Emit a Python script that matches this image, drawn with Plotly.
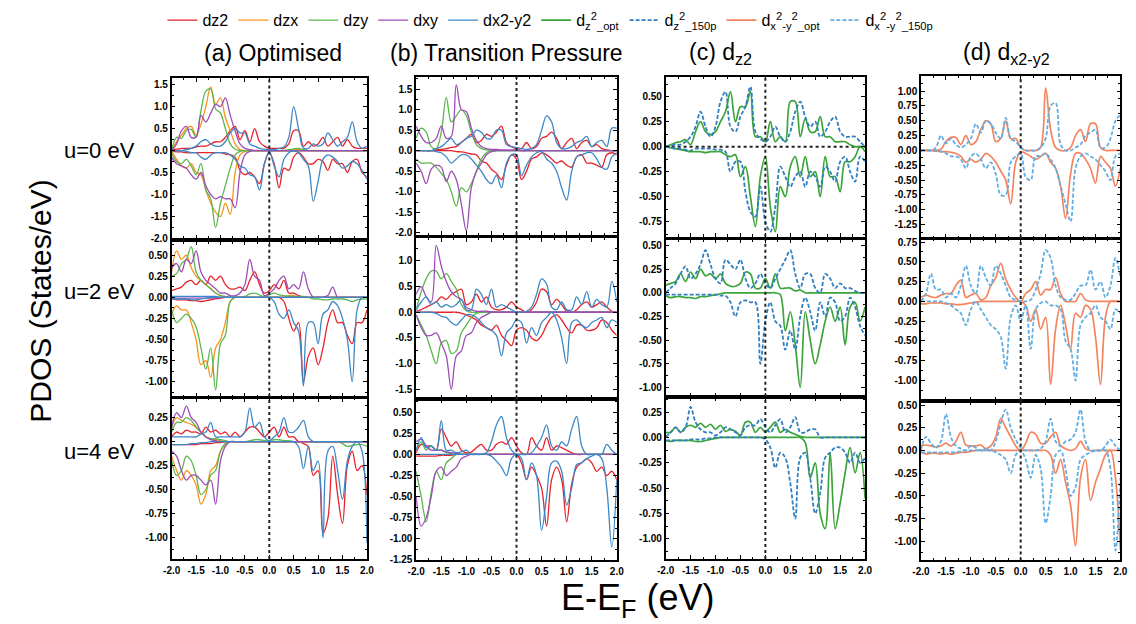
import sys
import plotly.graph_objects as go

# ---------------- data ----------------
E = [-2.0, -1.9, -1.8, -1.7, -1.6, -1.5, -1.4, -1.3, -1.2, -1.1,
     -1.0, -0.9, -0.8, -0.7, -0.6, -0.5, -0.4, -0.3, -0.2, -0.1,
     0.0, 0.1, 0.2, 0.3, 0.4, 0.5, 0.6, 0.7, 0.8, 0.9,
     1.0, 1.1, 1.2, 1.3, 1.4, 1.5, 1.6, 1.7, 1.8, 1.9,
     2.0]

# (a) Optimised, u=0 eV
a0_dz2_up = [0.02, 0.03, 0.05, 0.05, 0.05, 0.08, 0.10, 0.10, 0.15, 0.20,
             0.20, 0.30, 0.45, 0.55, 0.25, 0.45, 0.20, 0.50, 0.20, 0.10,
             0.05, 0.05, 0.05, 0.05, 0.15, 0.45, 0.45, 0.10, 0.20, 0.10,
             0.15, 0.30, 0.10, 0.20, 0.30, 0.10, 0.25, 0.10, 0.05, 0.05,
             0.05]
a0_dz2_dn = [-0.02, -0.03, -0.03, -0.05, -0.05, -0.05, -0.05, -0.05, -0.05, -0.05,
             -0.05, -0.08, -0.10, -0.15, -0.45, -0.55, -0.50, -0.60, -0.75, -0.30,
             -0.05, -0.30, -0.85, -0.40, -0.45, -0.15, -0.05, -0.15, -0.30, -0.30,
             -0.20, -0.25, -0.45, -0.20, -0.30, -0.30, -0.50, -0.25, -0.20, -0.50,
             -0.60]
a0_dzx_up = [0.00, 0.20, 0.35, 0.50, 0.55, 0.35, 0.60, 1.00, 1.45, 1.05,
             1.20, 0.75, 0.45, 0.15, 0.02, 0.00, 0.00, 0.00, 0.00, 0.00,
             0.00, 0.00, 0.00, 0.00, 0.00, 0.02, 0.02, 0.00, 0.00, 0.00,
             0.00, 0.00, 0.00, 0.00, 0.00, 0.00, 0.00, 0.00, 0.00, 0.00,
             0.00]
a0_dzx_dn = [-0.02, -0.20, -0.35, -0.40, -0.30, -0.50, -0.55, -0.90, -1.20, -1.40,
             -1.50, -1.20, -1.45, -0.50, -0.10, -0.02, 0.00, 0.00, 0.00, 0.00,
             0.00, 0.00, 0.00, 0.00, 0.00, 0.00, 0.00, 0.00, 0.00, 0.00,
             0.00, 0.00, 0.00, 0.00, 0.00, 0.00, 0.00, 0.00, 0.00, 0.00,
             0.00]
a0_dzy_up = [0.00, 0.30, 0.28, 0.45, 0.48, 0.30, 0.90, 1.35, 1.40, 0.95,
             0.85, 0.50, 0.15, 0.03, 0.00, 0.00, 0.00, 0.00, 0.00, 0.00,
             0.00, 0.00, 0.00, 0.00, 0.02, 0.04, 0.05, 0.02, 0.00, 0.00,
             0.00, 0.00, 0.00, 0.00, 0.00, 0.00, 0.00, 0.00, 0.00, 0.00,
             0.00]
a0_dzy_dn = [-0.05, -0.25, -0.30, -0.20, -0.35, -0.55, -0.30, -0.90, -1.10, -1.75,
             -1.20, -0.80, -0.40, -0.10, -0.02, 0.00, 0.00, 0.00, 0.00, 0.00,
             0.00, 0.00, 0.00, 0.00, -0.01, -0.02, -0.01, 0.00, 0.00, 0.00,
             0.00, 0.00, 0.00, 0.00, 0.00, 0.00, 0.00, 0.00, 0.00, 0.00,
             0.00]
a0_dxy_up = [0.00, 0.15, 0.45, 0.55, 0.30, 0.30, 0.80, 0.65, 0.85, 1.05,
             1.00, 1.20, 0.80, 0.45, 0.15, 0.05, 0.02, 0.00, 0.00, 0.00,
             0.00, 0.00, 0.00, 0.00, 0.00, 0.00, 0.00, 0.00, 0.00, 0.00,
             0.00, 0.00, 0.00, 0.00, 0.00, 0.00, 0.00, 0.00, 0.00, 0.00,
             0.00]
a0_dxy_dn = [-0.15, -0.30, -0.35, -0.40, -0.55, -0.65, -0.50, -0.80, -1.00, -1.10,
             -1.05, -1.10, -1.10, -1.30, -0.50, -0.10, -0.02, 0.00, 0.00, 0.00,
             0.00, 0.00, 0.00, 0.00, 0.00, 0.00, 0.00, 0.00, 0.00, 0.00,
             0.00, 0.00, 0.00, 0.00, 0.00, 0.00, 0.00, 0.00, 0.00, 0.00,
             0.00]
a0_dx2_up = [0.00, 0.00, 0.00, 0.02, 0.05, 0.10, 0.20, 0.25, 0.15, 0.10,
             0.10, 0.20, 0.40, 0.50, 0.40, 0.40, 0.15, 0.10, 0.05, 0.03,
             0.02, 0.02, 0.05, 0.08, 0.30, 1.00, 0.50, 0.05, 0.05, 0.15,
             0.10, 0.15, 0.40, 0.25, 0.10, 0.20, 0.30, 0.65, 0.20, 0.05,
             0.10]
a0_dx2_dn = [0.00, 0.00, 0.00, -0.02, -0.05, -0.05, -0.15, -0.20, -0.10, -0.05,
             -0.05, -0.05, -0.10, -0.20, -0.35, -0.40, -0.55, -0.60, -0.90, -0.30,
             -0.02, -0.35, -0.60, -0.20, -0.05, 0.00, -0.05, -0.20, -0.35, -1.15,
             -0.70, -0.20, -0.10, -0.15, -0.25, -0.40, -0.35, -0.25, -0.30, -0.45,
             -0.65]

# (a) Optimised, u=2 eV
a2_dz2_up = [0.08, 0.10, 0.12, 0.18, 0.20, 0.15, 0.20, 0.15, 0.25, 0.20,
             0.25, 0.15, 0.10, 0.10, 0.12, 0.08, 0.20, 0.30, 0.15, 0.05,
             0.08, 0.15, 0.10, 0.20, 0.05, 0.05, 0.02, 0.00, 0.00, 0.00,
             0.00, 0.00, 0.00, 0.00, 0.00, 0.00, 0.00, 0.00, 0.00, 0.00,
             0.00]
a2_dz2_dn = [-0.02, -0.03, -0.03, -0.03, -0.04, -0.04, -0.05, -0.04, -0.03, -0.02,
             -0.01, 0.00, 0.00, 0.00, 0.00, 0.00, 0.00, 0.00, 0.00, 0.00,
             0.00, 0.00, 0.00, -0.05, -0.25, -0.40, -0.30, -1.00, -0.70, -0.60,
             -0.80, -0.60, -0.30, -0.15, -0.30, -0.30, -0.45, -0.55, -0.30, -0.30,
             -0.15]
a2_dzx_up = [0.30, 0.55, 0.45, 0.50, 0.35, 0.25, 0.20, 0.15, 0.10, 0.05,
             0.02, 0.00, 0.00, 0.00, 0.00, 0.00, 0.00, 0.00, 0.00, 0.00,
             0.00, 0.00, 0.00, 0.00, 0.02, 0.02, 0.00, 0.00, 0.00, 0.00,
             0.00, 0.00, 0.00, 0.00, 0.00, 0.00, 0.00, 0.00, 0.00, 0.00,
             0.00]
a2_dzx_dn = [-0.20, -0.10, -0.15, -0.15, -0.30, -0.50, -0.80, -0.75, -0.95, -0.60,
             -0.50, -0.30, -0.05, 0.00, 0.00, 0.00, 0.00, 0.00, 0.00, 0.00,
             0.00, 0.00, 0.00, 0.00, 0.00, 0.00, 0.00, 0.00, 0.00, 0.00,
             0.00, 0.00, 0.00, 0.00, 0.00, 0.00, 0.00, 0.00, 0.00, 0.00,
             0.00]
a2_dzy_up = [0.25, 0.28, 0.40, 0.45, 0.60, 0.30, 0.20, 0.15, 0.10, 0.05,
             0.02, 0.01, 0.00, 0.00, 0.00, 0.01, 0.04, 0.05, 0.03, 0.00,
             0.03, 0.05, 0.03, 0.02, 0.01, 0.01, 0.01, 0.01, 0.00, 0.00,
             0.00, 0.00, 0.00, 0.00, 0.00, 0.00, 0.00, 0.00, 0.00, 0.00,
             0.00]
a2_dzy_dn = [-0.15, -0.30, -0.25, -0.20, -0.25, -0.35, -0.60, -0.85, -0.60, -1.10,
             -0.55, -0.45, -0.05, 0.00, 0.00, 0.00, 0.00, 0.00, 0.00, 0.00,
             0.00, 0.00, 0.00, 0.00, 0.00, 0.00, 0.00, 0.00, 0.00, -0.02,
             -0.02, -0.03, -0.03, -0.02, -0.02, -0.02, -0.03, -0.05, -0.03, -0.02,
             -0.02]
a2_dxy_up = [0.35, 0.40, 0.30, 0.45, 0.40, 0.55, 0.30, 0.20, 0.15, 0.10,
             0.05, 0.05, 0.02, 0.02, 0.05, 0.15, 0.45, 0.25, 0.20, 0.02,
             0.05, 0.10, 0.20, 0.25, 0.10, 0.15, 0.10, 0.30, 0.10, 0.00,
             0.00, 0.00, 0.02, 0.12, 0.00, 0.00, 0.00, 0.00, 0.00, 0.00,
             0.00]
a2_dxy_dn = [-0.01, -0.01, -0.01, -0.01, -0.01, -0.01, -0.01, -0.01, -0.01, -0.01,
             0.00, 0.00, 0.00, 0.00, 0.00, 0.00, 0.00, 0.00, 0.00, 0.00,
             0.00, 0.00, 0.00, 0.00, 0.00, 0.00, 0.00, 0.00, 0.00, 0.00,
             0.00, 0.00, 0.00, 0.00, 0.00, 0.00, 0.00, 0.00, 0.00, 0.00,
             0.00]
a2_dx2_up = [0.01, 0.01, 0.01, 0.01, 0.01, 0.01, 0.01, 0.01, 0.01, 0.01,
             0.00, 0.00, 0.00, 0.00, 0.00, 0.00, 0.00, 0.00, 0.00, 0.00,
             0.00, 0.00, 0.00, 0.00, 0.00, 0.00, 0.00, 0.00, 0.00, 0.00,
             0.00, 0.00, 0.00, 0.00, 0.00, 0.00, 0.00, 0.00, 0.00, 0.00,
             0.00]
a2_dx2_dn = [-0.02, -0.02, -0.02, -0.02, -0.03, -0.03, -0.02, -0.01, 0.00, 0.00,
             0.00, 0.00, 0.00, 0.00, 0.00, 0.00, 0.00, 0.00, 0.00, 0.00,
             0.00, -0.05, -0.20, -0.25, -0.15, -0.30, -0.40, -1.05, -0.30, -0.30,
             -0.55, -0.20, -0.15, -0.05, -0.10, -0.25, -0.50, -1.00, -0.15, 0.00,
             0.00]

# (a) Optimised, u=4 eV
a4_dz2_up = [0.05, 0.10, 0.08, 0.12, 0.10, 0.10, 0.08, 0.15, 0.10, 0.12,
             0.08, 0.10, 0.05, 0.10, 0.05, 0.10, 0.15, 0.15, 0.10, 0.05,
             0.10, 0.15, 0.05, 0.15, 0.05, 0.05, 0.00, 0.00, 0.00, 0.00,
             0.00, 0.00, 0.00, 0.00, 0.00, 0.00, 0.00, 0.00, 0.00, 0.00,
             0.00]
a4_dz2_dn = [-0.03, -0.03, -0.03, -0.03, -0.03, -0.03, -0.02, -0.02, -0.02, -0.01,
             -0.01, 0.00, 0.00, 0.00, 0.00, 0.00, 0.00, 0.00, 0.00, 0.00,
             0.00, 0.00, 0.00, 0.00, 0.00, 0.00, 0.00, -0.02, -0.05, -0.35,
             -0.30, -0.95, -0.80, -0.15, -0.55, -0.85, -0.25, -0.10, -0.30, -0.25,
             -0.55]
a4_dzx_up = [0.15, 0.25, 0.22, 0.20, 0.18, 0.15, 0.10, 0.05, 0.03, 0.02,
             0.01, 0.00, 0.00, 0.00, 0.00, 0.00, 0.00, 0.00, 0.00, 0.00,
             0.00, 0.00, 0.00, 0.00, 0.00, 0.00, 0.00, 0.00, 0.00, 0.00,
             0.00, 0.00, 0.00, 0.00, 0.00, 0.00, 0.00, 0.00, 0.00, 0.00,
             0.00]
a4_dzx_dn = [-0.15, -0.30, -0.40, -0.30, -0.35, -0.45, -0.65, -0.55, -0.30, -0.25,
             -0.10, -0.03, 0.00, 0.00, 0.00, 0.00, 0.00, 0.00, 0.00, 0.00,
             0.00, 0.00, 0.00, 0.00, 0.00, 0.00, 0.00, 0.00, 0.00, 0.00,
             0.00, 0.00, 0.00, 0.00, 0.00, 0.00, 0.00, 0.00, 0.00, 0.00,
             0.00]
a4_dzy_up = [0.10, 0.20, 0.20, 0.25, 0.22, 0.15, 0.10, 0.05, 0.03, 0.03,
             0.02, 0.01, 0.00, 0.00, 0.00, 0.00, 0.01, 0.02, 0.02, 0.01,
             0.01, 0.02, 0.02, 0.01, 0.01, 0.00, 0.00, 0.00, 0.00, 0.00,
             0.00, 0.00, 0.00, 0.00, 0.00, 0.00, 0.00, 0.00, 0.00, 0.00,
             0.00]
a4_dzy_dn = [-0.20, -0.35, -0.30, -0.15, -0.20, -0.35, -0.55, -0.50, -0.35, -0.30,
             -0.10, -0.02, 0.00, 0.00, 0.00, 0.00, 0.00, 0.00, 0.00, 0.00,
             0.00, 0.00, 0.00, 0.00, 0.00, 0.00, 0.00, 0.00, 0.00, 0.00,
             0.00, 0.00, 0.00, 0.00, 0.00, -0.02, -0.05, -0.04, -0.03, -0.03,
             -0.05]
a4_dxy_up = [0.15, 0.30, 0.25, 0.37, 0.25, 0.20, 0.10, 0.05, 0.02, 0.01,
             0.00, 0.00, 0.00, 0.00, 0.00, 0.00, 0.00, 0.00, 0.00, 0.00,
             0.00, 0.00, 0.00, 0.00, 0.00, 0.00, 0.00, 0.00, 0.00, 0.00,
             0.00, 0.00, 0.00, 0.00, 0.00, 0.00, 0.00, 0.00, 0.00, 0.00,
             0.00]
a4_dxy_dn = [-0.10, -0.15, -0.30, -0.40, -0.35, -0.35, -0.40, -0.45, -0.40, -0.65,
             -0.20, -0.05, 0.00, 0.00, 0.00, 0.00, 0.00, 0.00, 0.00, 0.00,
             0.00, 0.00, 0.00, 0.00, 0.00, 0.00, 0.00, 0.00, 0.00, 0.00,
             0.00, 0.00, 0.00, 0.00, 0.00, 0.00, 0.00, 0.00, 0.00, 0.00,
             0.00]
a4_dx2_up = [0.05, 0.05, 0.05, 0.05, 0.05, 0.05, 0.08, 0.10, 0.20, 0.05,
             0.05, 0.05, 0.05, 0.05, 0.05, 0.10, 0.35, 0.15, 0.20, 0.05,
             0.01, 0.05, 0.10, 0.25, 0.10, 0.10, 0.15, 0.22, 0.05, 0.00,
             0.00, 0.00, 0.00, 0.00, 0.00, 0.00, 0.00, 0.00, 0.00, 0.00,
             0.00]
a4_dx2_dn = [-0.03, -0.03, -0.03, -0.03, -0.02, -0.02, -0.01, -0.01, 0.00, 0.00,
             0.00, 0.00, 0.00, 0.00, 0.00, 0.00, 0.00, 0.00, 0.00, 0.00,
             0.00, 0.00, 0.00, 0.00, 0.00, 0.00, -0.05, -0.28, -0.05, -0.30,
             -0.20, -1.00, -0.10, -0.05, -0.30, -0.60, -0.20, -0.05, 0.00, -0.10,
             -1.05]

# (b) Transition pressure, u=0 eV
b0_dz2_up = [0.00, 0.00, 0.00, 0.00, 0.02, 0.03, 0.05, 0.08, 0.10, 0.20,
             0.30, 0.40, 0.20, 0.25, 0.40, 0.35, 0.45, 0.60, 0.20, 0.10,
             0.05, 0.05, 0.20, 0.05, 0.10, 0.30, 0.35, 0.45, 0.30, 0.05,
             0.20, 0.30, 0.05, 0.20, 0.25, 0.10, 0.15, 0.05, 0.02, 0.00,
             0.00]
b0_dz2_dn = [0.00, 0.00, 0.00, 0.00, 0.00, 0.00, 0.00, 0.00, -0.02, -0.03,
             -0.05, -0.08, -0.10, -0.25, -0.30, -0.45, -0.55, -0.70, -0.35, -0.10,
             -0.20, -0.70, -0.50, -0.20, -0.15, -0.05, -0.10, -0.20, -0.30, -0.25,
             -0.35, -0.40, -0.15, -0.10, -0.30, -0.30, -0.35, -0.40, -0.10, -0.05,
             -0.10]
b0_dzy_up = [0.30, 0.55, 0.45, 0.10, 0.05, 0.45, 1.30, 0.70, 0.85, 1.00,
             0.85, 0.45, 0.15, 0.05, 0.02, 0.00, 0.00, 0.00, 0.00, 0.00,
             0.00, 0.00, 0.00, 0.00, 0.00, 0.00, 0.00, 0.00, 0.00, 0.00,
             0.00, 0.00, 0.00, 0.00, 0.00, 0.00, 0.00, 0.00, 0.00, 0.00,
             0.00]
b0_dzy_dn = [-0.20, -0.30, -0.30, -0.30, -0.40, -0.55, -0.70, -1.00, -1.35, -0.90,
             -1.00, -0.80, -0.50, -0.20, -0.05, 0.00, 0.00, 0.00, 0.00, 0.00,
             0.00, 0.00, 0.00, 0.00, 0.00, 0.00, 0.00, 0.00, 0.00, 0.00,
             0.00, 0.00, 0.00, 0.00, 0.00, 0.00, 0.00, 0.00, 0.00, 0.00,
             0.00]
b0_dxy_up = [0.60, 0.35, 0.20, 0.20, 0.30, 0.60, 0.30, 0.35, 1.60, 1.00,
             0.95, 0.55, 0.25, 0.10, 0.05, 0.03, 0.03, 0.02, 0.02, 0.02,
             0.02, 0.00, 0.00, 0.00, 0.00, 0.00, 0.00, 0.00, 0.00, 0.00,
             0.00, 0.00, 0.00, 0.00, 0.00, 0.00, 0.00, 0.00, 0.00, 0.00,
             0.00]
b0_dxy_dn = [-0.30, -0.50, -0.80, -0.45, -0.35, -0.40, -0.75, -0.50, -0.70, -1.30,
             -1.95, -0.90, -0.50, -0.30, -0.10, -0.02, 0.00, 0.00, 0.00, 0.00,
             0.00, 0.00, 0.00, 0.00, 0.00, 0.00, 0.00, 0.00, 0.00, 0.00,
             0.00, 0.00, 0.00, 0.00, 0.00, 0.00, 0.00, 0.00, 0.00, 0.00,
             0.00]
b0_dx2_up = [0.00, 0.00, 0.00, 0.00, 0.05, 0.10, 0.20, 0.30, 0.15, 0.20,
             0.30, 0.35, 0.50, 0.45, 0.30, 0.30, 0.50, 0.50, 0.15, 0.10,
             0.08, 0.05, 0.03, 0.05, 0.15, 0.50, 0.85, 0.70, 0.20, 0.05,
             0.05, 0.10, 0.20, 0.25, 0.35, 0.10, 0.20, 0.25, 0.10, 0.55,
             0.55]
b0_dx2_dn = [0.00, 0.00, 0.00, 0.00, -0.02, -0.05, -0.15, -0.30, -0.20, -0.10,
             -0.10, -0.20, -0.35, -0.50, -0.70, -0.80, -0.60, -0.90, -0.30, -0.10,
             -0.10, -0.60, -0.35, -0.15, -0.05, -0.02, -0.20, -0.30, -0.50, -0.90,
             -1.20, -0.50, -0.15, -0.10, -0.05, -0.05, -0.20, -0.40, -0.45, -0.15,
             -0.05]

# (b) Transition pressure, u=2 eV
b2_dz2_up = [0.02, 0.05, 0.10, 0.15, 0.20, 0.30, 0.25, 0.35, 0.40, 0.45,
             0.15, 0.20, 0.35, 0.20, 0.30, 0.10, 0.05, 0.05, 0.10, 0.20,
             0.10, 0.05, 0.00, 0.05, 0.20, 0.45, 0.40, 0.15, 0.25, 0.15,
             0.02, 0.00, 0.05, 0.15, 0.20, 0.10, 0.15, 0.20, 0.10, 0.02,
             0.00]
b2_dz2_dn = [0.00, 0.00, 0.00, 0.00, 0.00, 0.00, 0.00, 0.00, 0.00, -0.02,
             -0.05, -0.10, -0.15, -0.25, -0.30, -0.35, -0.25, -0.45, -0.55, -0.65,
             -0.35, -0.30, -0.35, -0.50, -0.55, -0.45, -0.25, -0.10, -0.05, -0.15,
             -0.30, -0.40, -0.25, -0.25, -0.35, -0.35, -0.30, -0.15, -0.20, -0.35,
             -0.45]
b2_dzy_up = [0.05, 0.40, 0.65, 0.80, 0.80, 0.65, 0.75, 0.60, 0.45, 0.15,
             0.03, 0.00, 0.00, 0.00, 0.00, 0.00, 0.00, 0.00, 0.00, 0.00,
             0.00, 0.00, 0.00, 0.00, 0.00, 0.00, 0.00, 0.00, 0.00, 0.00,
             0.00, 0.00, 0.00, 0.00, 0.00, 0.00, 0.00, 0.00, 0.00, 0.00,
             0.00]
b2_dzy_dn = [-0.05, -0.25, -0.45, -0.75, -1.00, -0.60, -0.55, -0.80, -0.75, -0.40,
             -0.25, -0.10, -0.02, 0.00, 0.00, 0.00, 0.00, 0.00, 0.00, 0.00,
             0.00, 0.00, 0.00, 0.00, 0.00, 0.00, 0.00, 0.00, 0.00, 0.00,
             0.00, 0.00, 0.00, 0.00, 0.00, 0.00, 0.00, 0.00, 0.00, 0.00,
             0.00]
b2_dxy_up = [0.35, 0.50, 0.30, 0.20, 1.30, 0.90, 0.60, 0.40, 0.30, 0.25,
             0.10, 0.05, 0.02, 0.02, 0.02, 0.01, 0.00, 0.00, 0.00, 0.00,
             0.00, 0.00, 0.00, 0.00, 0.00, 0.00, 0.00, 0.00, 0.00, 0.00,
             0.00, 0.00, 0.00, 0.00, 0.00, 0.00, 0.00, 0.00, 0.00, 0.00,
             0.00]
b2_dxy_dn = [-0.05, -0.30, -0.45, -0.45, -0.40, -0.60, -0.85, -1.50, -0.85, -0.75,
             -0.45, -0.40, -0.20, -0.10, -0.05, 0.00, 0.00, 0.00, 0.00, 0.00,
             0.00, 0.00, 0.00, 0.00, 0.00, 0.00, 0.00, 0.00, 0.00, 0.00,
             0.00, 0.00, 0.00, 0.00, 0.00, 0.00, 0.00, 0.00, 0.00, 0.00,
             0.00]
b2_dx2_up = [0.05, 0.20, 0.30, 0.15, 0.20, 0.10, 0.15, 0.10, 0.15, 0.25,
             0.05, 0.05, 0.45, 0.35, 0.15, 0.45, 0.10, 0.15, 0.10, 0.05,
             0.00, 0.00, 0.02, 0.10, 0.35, 0.65, 0.55, 0.10, 0.05, 0.20,
             0.05, 0.05, 0.30, 0.15, 0.40, 0.10, 0.25, 0.15, 0.10, 0.60,
             0.20]
b2_dx2_dn = [0.00, 0.00, 0.00, 0.00, -0.02, -0.08, -0.10, -0.20, -0.25, -0.15,
             -0.05, -0.05, -0.10, -0.20, -0.30, -0.35, -0.45, -0.85, -0.40, -0.30,
             -0.15, -0.20, -0.60, -0.30, -0.45, -0.20, -0.10, 0.00, -0.15, -0.50,
             -1.00, -0.20, -0.15, -0.25, -0.30, -0.20, -0.15, -0.10, -0.30, -0.15,
             -0.20]

# (b) Transition pressure, u=4 eV
b4_dz2_up = [0.02, 0.12, 0.10, 0.10, 0.05, 0.30, 0.20, 0.10, 0.15, 0.05,
             0.02, 0.03, 0.08, 0.12, 0.05, 0.05, 0.12, 0.15, 0.12, 0.20,
             0.10, 0.02, 0.00, 0.20, 0.10, 0.05, 0.20, 0.05, 0.10, 0.08,
             0.05, 0.02, 0.00, 0.00, 0.00, 0.00, 0.00, 0.00, 0.00, 0.00,
             0.00]
b4_dz2_dn = [-0.02, -0.02, -0.02, -0.02, -0.02, -0.01, -0.01, -0.01, 0.00, 0.00,
             0.00, 0.00, 0.00, 0.00, 0.00, 0.00, 0.00, 0.00, 0.00, 0.00,
             0.00, -0.10, -0.30, -0.15, -0.25, -0.40, -0.85, -0.30, -0.15, -0.30,
             -0.80, -0.35, -0.15, -0.10, -0.05, -0.10, -0.20, -0.15, -0.25, -0.20,
             -0.30]
b4_dzy_up = [0.05, 0.15, 0.05, 0.10, 0.05, 0.05, 0.02, 0.01, 0.00, 0.00,
             0.00, 0.00, 0.00, 0.00, 0.00, 0.00, 0.00, 0.00, 0.00, 0.00,
             0.00, 0.00, 0.00, 0.00, 0.00, 0.00, 0.00, 0.00, 0.00, 0.00,
             0.00, 0.00, 0.00, 0.00, 0.00, 0.00, 0.00, 0.00, 0.00, 0.00,
             0.00]
b4_dzy_dn = [-0.20, -0.50, -0.80, -0.45, -0.20, -0.30, -0.10, -0.05, 0.00, 0.00,
             0.00, 0.00, 0.00, 0.00, 0.00, 0.00, 0.00, 0.00, 0.00, 0.00,
             0.00, 0.00, 0.00, 0.00, 0.00, 0.00, 0.00, 0.00, 0.00, 0.00,
             0.00, 0.00, 0.00, 0.00, 0.00, 0.00, 0.00, 0.00, 0.00, 0.00,
             0.00]
b4_dxy_up = [0.15, 0.18, 0.10, 0.05, 0.05, 0.05, 0.03, 0.02, 0.01, 0.00,
             0.00, 0.00, 0.00, 0.00, 0.00, 0.00, 0.00, 0.00, 0.00, 0.00,
             0.00, 0.00, 0.00, 0.00, 0.00, 0.00, 0.00, 0.00, 0.00, 0.00,
             0.00, 0.00, 0.00, 0.00, 0.00, 0.00, 0.00, 0.00, 0.00, 0.00,
             0.00]
b4_dxy_dn = [-0.50, -0.85, -0.75, -0.50, -0.20, -0.15, -0.25, -0.20, -0.15, -0.05,
             -0.02, 0.00, 0.00, 0.00, 0.00, 0.00, 0.00, 0.00, 0.00, 0.00,
             0.00, 0.00, 0.00, 0.00, 0.00, 0.00, 0.00, 0.00, 0.00, 0.00,
             0.00, 0.00, 0.00, 0.00, 0.00, 0.00, 0.00, 0.00, 0.00, 0.00,
             0.00]
b4_dx2_up = [0.05, 0.20, 0.08, 0.10, 0.05, 0.40, 0.05, 0.05, 0.02, 0.03,
             0.05, 0.00, 0.00, 0.00, 0.02, 0.15, 0.35, 0.45, 0.20, 0.05,
             0.00, 0.00, 0.00, 0.02, 0.10, 0.20, 0.35, 0.10, 0.05, 0.15,
             0.10, 0.30, 0.45, 0.10, 0.00, 0.00, 0.00, 0.00, 0.12, 0.05,
             0.00]
b4_dx2_dn = [0.00, 0.00, 0.00, 0.00, 0.00, 0.00, 0.00, 0.00, 0.00, 0.00,
             0.00, 0.00, 0.00, 0.00, 0.00, -0.02, -0.08, -0.15, -0.25, -0.05,
             0.00, -0.05, -0.30, -0.10, -0.25, -0.90, -0.50, -0.10, -0.08, -0.20,
             -0.60, -0.40, -0.12, -0.10, -0.05, -0.02, 0.00, -0.05, -0.40, -1.10,
             -0.30]

# (c) d_z2, optimised vs 150p
c0_opt_up = [0.00, 0.02, 0.04, 0.05, 0.07, 0.02, 0.15, 0.25, 0.15, 0.12,
             0.15, 0.25, 0.35, 0.55, 0.25, 0.40, 0.40, 0.55, 0.10, 0.10,
             0.05, 0.25, 0.05, 0.10, 0.05, 0.45, 0.45, 0.10, 0.28, 0.15,
             0.15, 0.30, 0.10, 0.10, 0.05, 0.05, 0.05, 0.02, 0.00, 0.00,
             0.00]
c0_opt_dn = [0.00, -0.01, -0.02, -0.03, -0.04, -0.05, -0.05, -0.05, -0.06, -0.05,
             -0.05, -0.05, -0.08, -0.10, -0.08, -0.30, -0.20, -0.50, -0.80, -0.30,
             -0.10, -0.60, -0.85, -0.40, -0.50, -0.20, -0.10, -0.30, -0.10, -0.30,
             -0.25, -0.50, -0.10, -0.30, -0.30, -0.45, -0.15, -0.15, -0.10, 0.00,
             -0.05]
c0_150_up = [0.00, 0.01, 0.02, 0.02, 0.05, 0.10, 0.20, 0.35, 0.20, 0.10,
             0.20, 0.45, 0.55, 0.20, 0.15, 0.30, 0.40, 0.60, 0.15, 0.08,
             0.05, 0.10, 0.20, 0.10, 0.05, 0.15, 0.35, 0.45, 0.30, 0.20,
             0.25, 0.10, 0.15, 0.25, 0.30, 0.15, 0.10, 0.10, 0.10, 0.05,
             0.00]
c0_150_dn = [0.00, -0.01, -0.02, -0.02, -0.03, -0.04, -0.02, -0.02, -0.02, -0.02,
             -0.03, -0.03, -0.05, -0.25, -0.15, -0.15, -0.45, -0.65, -0.70, -0.40,
             -0.75, -0.85, -0.60, -0.20, -0.30, -0.40, -0.30, -0.25, -0.40, -0.25,
             -0.30, -0.40, -0.20, -0.25, -0.35, -0.15, -0.10, -0.25, -0.35, -0.10,
             -0.15]
c2_opt_up = [0.08, 0.10, 0.12, 0.20, 0.12, 0.22, 0.15, 0.25, 0.18, 0.20,
             0.15, 0.20, 0.10, 0.07, 0.07, 0.10, 0.22, 0.20, 0.05, 0.05,
             0.15, 0.05, 0.20, 0.05, 0.05, 0.05, 0.02, 0.03, 0.00, 0.00,
             0.00, 0.00, 0.00, 0.00, 0.00, 0.00, 0.00, 0.00, 0.00, 0.00,
             0.00]
c2_opt_dn = [-0.03, -0.05, -0.04, -0.04, -0.05, -0.05, -0.06, -0.04, -0.04, -0.03,
             -0.02, -0.01, 0.00, 0.00, 0.00, 0.00, 0.00, 0.00, 0.00, 0.00,
             0.00, 0.00, 0.00, -0.02, -0.40, -0.20, -0.55, -1.00, -0.20, -0.50,
             -0.75, -0.55, -0.30, -0.15, -0.30, -0.15, -0.55, -0.15, -0.10, -0.30,
             -0.15]
c2_150_up = [0.00, 0.05, 0.10, 0.20, 0.28, 0.15, 0.20, 0.30, 0.45, 0.30,
             0.15, 0.10, 0.35, 0.30, 0.25, 0.35, 0.15, 0.05, 0.10, 0.20,
             0.10, 0.05, 0.15, 0.25, 0.35, 0.45, 0.20, 0.05, 0.20, 0.20,
             0.05, 0.00, 0.20, 0.15, 0.05, 0.10, 0.05, 0.05, 0.02, 0.00,
             0.00]
c2_150_dn = [-0.02, -0.02, -0.02, -0.02, -0.02, -0.02, -0.02, -0.02, -0.02, -0.02,
             -0.02, -0.03, -0.03, -0.10, -0.25, -0.10, -0.08, -0.10, -0.10, -0.75,
             -0.30, -0.10, -0.30, -0.35, -0.60, -0.40, -0.60, -0.25, -0.05, -0.20,
             -0.40, -0.10, -0.25, -0.05, -0.10, -0.30, -0.25, -0.05, -0.15, -0.35,
             -0.45]
c4_opt_up = [0.05, 0.05, 0.10, 0.05, 0.10, 0.12, 0.10, 0.14, 0.10, 0.13,
             0.08, 0.12, 0.06, 0.08, 0.06, 0.02, 0.15, 0.15, 0.05, 0.10,
             0.05, 0.10, 0.15, 0.05, 0.08, 0.05, 0.03, 0.01, 0.00, 0.00,
             0.00, 0.00, 0.00, 0.00, 0.00, 0.00, 0.00, 0.00, 0.00, 0.00,
             0.00]
c4_opt_dn = [-0.03, -0.04, -0.03, -0.03, -0.03, -0.03, -0.04, -0.04, -0.03, -0.02,
             -0.01, 0.00, 0.00, 0.00, 0.00, 0.00, 0.00, 0.00, 0.00, 0.00,
             0.00, 0.00, 0.00, 0.00, 0.00, 0.00, 0.00, 0.00, -0.05, -0.40,
             -0.25, -0.75, -0.90, -0.15, -0.90, -0.65, -0.35, -0.10, -0.35, -0.15,
             -0.60]
c4_150_up = [0.00, 0.05, 0.10, 0.05, 0.10, 0.30, 0.15, 0.08, 0.05, 0.05,
             0.02, 0.05, 0.10, 0.08, 0.05, 0.02, 0.10, 0.12, 0.12, 0.18,
             0.10, 0.05, 0.12, 0.18, 0.05, 0.10, 0.20, 0.05, 0.05, 0.08,
             0.08, 0.00, 0.00, 0.00, 0.00, 0.00, 0.00, 0.00, 0.00, 0.00,
             0.00]
c4_150_dn = [-0.03, -0.03, -0.03, -0.03, -0.03, -0.02, -0.02, -0.02, -0.01, -0.01,
             0.00, 0.00, 0.00, 0.00, 0.00, 0.00, 0.00, 0.00, 0.00, 0.00,
             -0.02, -0.10, -0.30, -0.15, -0.20, -0.45, -0.80, -0.20, -0.15, -0.40,
             -0.75, -0.55, -0.20, -0.15, -0.10, -0.10, -0.15, -0.25, -0.15, -0.25,
             -0.20]

# (d) d_x2-y2, optimised vs 150p
d0_opt_up = [0.00, 0.00, 0.00, 0.00, 0.02, 0.15, 0.22, 0.22, 0.10, 0.25,
             0.10, 0.15, 0.35, 0.50, 0.45, 0.15, 0.20, 0.50, 0.20, 0.20,
             0.05, 0.00, 0.00, 0.00, 0.05, 1.05, 0.35, 0.05, 0.00, 0.00,
             0.05, 0.25, 0.35, 0.15, 0.45, 0.45, 0.05, 0.00, 0.00, 0.00,
             0.00]
d0_opt_dn = [0.00, 0.00, 0.00, -0.01, -0.02, -0.02, -0.03, -0.05, -0.10, -0.20,
             -0.15, -0.20, -0.15, -0.05, -0.10, -0.20, -0.35, -0.50, -0.90, -0.20,
             -0.02, -0.05, -0.10, -0.15, -0.10, -0.05, -0.20, -0.30, -0.60, -1.15,
             -0.40, -0.05, -0.05, -0.15, -0.30, -0.55, -0.10, -0.20, -0.30, -0.60,
             -0.30]
d0_150_up = [0.00, 0.00, 0.00, 0.05, 0.25, 0.12, 0.20, 0.10, 0.05, 0.10,
             0.20, 0.45, 0.30, 0.50, 0.45, 0.30, 0.20, 0.55, 0.20, 0.15,
             0.05, 0.00, 0.00, 0.00, 0.05, 0.20, 0.75, 0.80, 0.10, 0.00,
             0.00, 0.05, 0.10, 0.25, 0.30, 0.35, 0.05, 0.05, 0.20, 0.50,
             0.60]
d0_150_dn = [0.00, 0.00, 0.00, 0.00, -0.02, -0.05, -0.10, -0.10, -0.15, -0.30,
             -0.10, -0.05, -0.15, -0.30, -0.20, -0.40, -0.75, -0.75, -0.20, -0.10,
             -0.05, -0.45, -0.50, -0.10, -0.10, -0.05, -0.15, -0.30, -0.60, -0.90,
             -1.20, -0.30, -0.10, -0.05, -0.10, -0.15, -0.25, -0.35, -0.50, -0.10,
             -0.05]
d2_opt_up = [0.05, 0.08, 0.06, 0.05, 0.08, 0.10, 0.10, 0.20, 0.27, 0.05,
             0.08, 0.10, 0.02, 0.05, 0.20, 0.30, 0.48, 0.28, 0.15, 0.05,
             0.00, 0.10, 0.15, 0.25, 0.08, 0.15, 0.15, 0.30, 0.10, 0.00,
             0.00, 0.00, 0.10, 0.02, 0.00, 0.00, 0.00, 0.00, 0.00, 0.00,
             0.00]
d2_opt_dn = [-0.03, -0.03, -0.02, -0.02, -0.02, -0.03, -0.03, -0.04, -0.04, -0.03,
             -0.02, -0.01, 0.00, 0.00, 0.00, 0.00, 0.00, 0.00, 0.00, 0.00,
             0.00, -0.05, -0.25, -0.10, -0.35, -0.20, -1.05, -0.35, -0.05, -0.30,
             -0.60, -0.15, -0.20, -0.05, -0.10, -0.45, -1.05, -0.20, 0.00, 0.00,
             0.00]
d2_150_up = [0.00, 0.10, 0.35, 0.15, 0.15, 0.05, 0.10, 0.05, 0.20, 0.45,
             0.20, 0.10, 0.45, 0.30, 0.20, 0.45, 0.35, 0.20, 0.05, 0.02,
             0.00, 0.00, 0.02, 0.15, 0.35, 0.65, 0.55, 0.20, 0.05, 0.02,
             0.02, 0.10, 0.20, 0.20, 0.40, 0.15, 0.25, 0.05, 0.20, 0.55,
             0.30]
d2_150_dn = [0.00, 0.00, 0.00, 0.00, 0.00, -0.02, -0.05, -0.10, -0.15, -0.30,
             -0.10, 0.00, -0.10, -0.20, -0.30, -0.35, -0.45, -0.85, -0.20, -0.05,
             -0.25, -0.05, -0.60, -0.10, -0.02, 0.00, -0.05, -0.05, -0.10, -0.50,
             -0.60, -1.00, -0.30, -0.20, -0.15, -0.05, -0.20, -0.25, -0.35, -0.10,
             -0.15]
d4_opt_up = [0.05, 0.06, 0.05, 0.04, 0.05, 0.08, 0.05, 0.10, 0.20, 0.06,
             0.05, 0.05, 0.06, 0.02, 0.05, 0.15, 0.35, 0.25, 0.15, 0.05,
             0.00, 0.08, 0.20, 0.18, 0.08, 0.08, 0.15, 0.20, 0.05, 0.02,
             0.00, 0.02, 0.10, 0.02, 0.00, 0.00, 0.00, 0.00, 0.00, 0.00,
             0.00]
d4_opt_dn = [-0.02, -0.04, -0.03, -0.03, -0.04, -0.03, -0.04, -0.03, -0.02, -0.02,
             -0.01, 0.00, 0.00, 0.00, 0.00, 0.00, 0.00, 0.00, 0.00, 0.00,
             0.00, 0.00, 0.00, 0.00, 0.00, 0.00, -0.05, -0.25, -0.10, -0.35,
             -0.60, -1.05, -0.30, -0.10, -0.55, -0.35, -0.20, -0.05, 0.00, -0.30,
             -1.10]
d4_150_up = [0.00, 0.15, 0.08, 0.03, 0.10, 0.40, 0.15, 0.05, 0.02, 0.00,
             0.05, 0.03, 0.00, 0.02, 0.00, 0.10, 0.30, 0.45, 0.25, 0.12,
             0.03, 0.00, 0.00, 0.00, 0.02, 0.10, 0.35, 0.10, 0.05, 0.10,
             0.12, 0.20, 0.45, 0.10, 0.00, 0.00, 0.00, 0.05, 0.12, 0.05,
             0.00]
d4_150_dn = [-0.02, -0.02, -0.02, -0.02, -0.02, -0.02, -0.02, -0.02, -0.01, 0.00,
             0.00, 0.00, 0.00, 0.00, 0.00, -0.02, -0.05, -0.10, -0.25, -0.05,
             0.00, -0.10, -0.30, -0.05, -0.20, -0.80, -0.50, -0.05, 0.00, -0.20,
             -0.50, -0.40, -0.10, -0.05, -0.02, 0.00, 0.00, 0.00, -0.20, -1.10,
             -0.30]

# tick values
X_TICKS = [-2.0, -1.5, -1.0, -0.5, 0.0, 0.5, 1.0, 1.5, 2.0]
YT_A0 = [1.5, 1.0, 0.5, 0.0, -0.5, -1.0, -1.5, -2.0]
YT_A2 = [0.5, 0.25, 0.0, -0.25, -0.5, -0.75, -1.0]
YT_A4 = [0.25, 0.0, -0.25, -0.5, -0.75, -1.0]
YT_B0 = [1.5, 1.0, 0.5, 0.0, -0.5, -1.0, -1.5, -2.0]
YT_B2 = [1.0, 0.5, 0.0, -0.5, -1.0, -1.5]
YT_B4 = [0.5, 0.25, 0.0, -0.25, -0.5, -0.75, -1.0, -1.25]
YT_C0 = [0.5, 0.25, 0.0, -0.25, -0.5, -0.75]
YT_C2 = [0.5, 0.25, 0.0, -0.25, -0.5, -0.75, -1.0]
YT_C4 = [0.25, 0.0, -0.25, -0.5, -0.75, -1.0]
YT_D0 = [1.0, 0.75, 0.5, 0.25, 0.0, -0.25, -0.5, -0.75, -1.0, -1.25]
YT_D2 = [0.75, 0.5, 0.25, 0.0, -0.25, -0.5, -0.75, -1.0]
YT_D4 = [0.5, 0.25, 0.0, -0.25, -0.5, -0.75, -1.0]

ORB_NAMES = ["dz2", "dzx", "dzy", "dxy", "dx2-y2"]
C_NAMES = ["d<sub>z</sub><sup>2</sup><sub>_opt</sub>", "d<sub>z</sub><sup>2</sup><sub>_150p</sub>"]
D_NAMES = ["d<sub>x</sub><sup>2</sup><sub>-y</sub><sup>2</sup><sub>_opt</sub>",
           "d<sub>x</sub><sup>2</sup><sub>-y</sub><sup>2</sup><sub>_150p</sub>"]
COL_TITLES = ["(a) Optimised", "(b) Transition Pressure", "(c) d<sub>z2</sub>", "(d) d<sub>x2-y2</sub>"]
ROW_LABELS = ["u=0 eV", "u=2 eV", "u=4 eV"]

# ---------------- styling / layout ----------------
W, H = 1136, 624
FONT = "Liberation Sans, Arial, sans-serif"
ORB_COLORS = ["#e8222b", "#f7941d", "#5cb54e", "#9c4db6", "#3d87c7"]
C_COLORS = ["#3ba43a", "#2f7fc1"]
D_COLORS = ["#f4845f", "#62aee3"]

XPIX = [(165, 363), (413, 616.5), (666, 868.3), (925, 1127.3)]
YPIX = [[(77, 239.5), (75.7, 236), (75.7, 237.7), (75, 239.3)],
        [(242.7, 400), (239.3, 402.3), (240.7, 400), (240, 404.3)],
        [(401, 564.3), (402.3, 565), (400, 564.3), (404.3, 565.7)]]
YRANGE = [[(-2.0, 1.65), (-2.05, 1.8), (-0.9, 0.70), (-1.48, 1.255)],
          [(-1.18, 0.66), (-1.69, 1.44), (-1.10, 0.5625), (-1.26, 0.79)],
          [(-1.22, 0.455), (-1.25, 0.656), (-1.2, 0.40), (-1.21, 0.543)]]
YTICKS = [[YT_A0, YT_B0, YT_C0, YT_D0], [YT_A2, YT_B2, YT_C2, YT_D2], [YT_A4, YT_B4, YT_C4, YT_D4]]
YDEC = [[1, 1, 2, 2], [2, 1, 2, 2], [2, 2, 2, 2]]
YMINOR = [[0.25, 0.25, 0.125, 0.125], [0.125, 0.25, 0.125, 0.125], [0.125, 0.125, 0.125, 0.125]]

AB = {
    (0, 0): [(a0_dz2_up, a0_dz2_dn), (a0_dzx_up, a0_dzx_dn), (a0_dzy_up, a0_dzy_dn), (a0_dxy_up, a0_dxy_dn), (a0_dx2_up, a0_dx2_dn)],
    (1, 0): [(a2_dz2_up, a2_dz2_dn), (a2_dzx_up, a2_dzx_dn), (a2_dzy_up, a2_dzy_dn), (a2_dxy_up, a2_dxy_dn), (a2_dx2_up, a2_dx2_dn)],
    (2, 0): [(a4_dz2_up, a4_dz2_dn), (a4_dzx_up, a4_dzx_dn), (a4_dzy_up, a4_dzy_dn), (a4_dxy_up, a4_dxy_dn), (a4_dx2_up, a4_dx2_dn)],
    (0, 1): [(b0_dz2_up, b0_dz2_dn), None, (b0_dzy_up, b0_dzy_dn), (b0_dxy_up, b0_dxy_dn), (b0_dx2_up, b0_dx2_dn)],
    (1, 1): [(b2_dz2_up, b2_dz2_dn), None, (b2_dzy_up, b2_dzy_dn), (b2_dxy_up, b2_dxy_dn), (b2_dx2_up, b2_dx2_dn)],
    (2, 1): [(b4_dz2_up, b4_dz2_dn), None, (b4_dzy_up, b4_dzy_dn), (b4_dxy_up, b4_dxy_dn), (b4_dx2_up, b4_dx2_dn)],
}
CD = {
    (0, 2): [(c0_opt_up, c0_opt_dn), (c0_150_up, c0_150_dn)],
    (1, 2): [(c2_opt_up, c2_opt_dn), (c2_150_up, c2_150_dn)],
    (2, 2): [(c4_opt_up, c4_opt_dn), (c4_150_up, c4_150_dn)],
    (0, 3): [(d0_opt_up, d0_opt_dn), (d0_150_up, d0_150_dn)],
    (1, 3): [(d2_opt_up, d2_opt_dn), (d2_150_up, d2_150_dn)],
    (2, 3): [(d4_opt_up, d4_opt_dn), (d4_150_up, d4_150_dn)],
}


def fit(y):
    if len(y) != len(E):
        print("length mismatch", len(y), file=sys.stderr)
    n = min(len(y), len(E))
    return E[:n], y[:n]


def k_of(r, c):
    return r * 4 + c + 1


def ax(prefix, k):
    return prefix if k == 1 else f"{prefix}{k}"


fig = go.Figure()
shown = set()

# (a),(b) panels
for (r, c), curves in AB.items():
    k = k_of(r, c)
    for i, pair in enumerate(curves):
        if pair is None:
            continue
        for j, y in enumerate(pair):
            xx, yy = fit(y)
            show = (ORB_NAMES[i] not in shown)
            shown.add(ORB_NAMES[i])
            fig.add_trace(go.Scatter(
                x=xx, y=yy, mode="lines", name=ORB_NAMES[i], legendgroup=ORB_NAMES[i],
                showlegend=show, legendrank=i + 1,
                line=dict(color=ORB_COLORS[i], width=1.3, shape="spline", smoothing=1.0),
                xaxis=ax("x", k), yaxis=ax("y", k), hoverinfo="skip"))

# (c),(d) panels
for (r, c), curves in CD.items():
    k = k_of(r, c)
    names = C_NAMES if c == 2 else D_NAMES
    colors = C_COLORS if c == 2 else D_COLORS
    for i, pair in enumerate(curves):
        for j, y in enumerate(pair):
            xx, yy = fit(y)
            nm = names[i]
            show = nm not in shown
            shown.add(nm)
            fig.add_trace(go.Scatter(
                x=xx, y=yy, mode="lines", name=nm, legendgroup=nm, showlegend=show,
                legendrank=6 + (0 if c == 2 else 2) + i,
                line=dict(color=colors[i], width=1.7 if i == 0 else 1.8,
                          dash="solid" if i == 0 else "4px,2px", shape="spline", smoothing=1.0),
                xaxis=ax("x", k), yaxis=ax("y", k), hoverinfo="skip"))

layout = dict(
    width=W, height=H, margin=dict(l=0, r=0, t=0, b=0),
    paper_bgcolor="white", plot_bgcolor="white",
    font=dict(family=FONT, color="black"),
    showlegend=True,
    legend=dict(orientation="h", x=0.137, y=0.998, xanchor="left", yanchor="top",
                font=dict(family=FONT, size=16, color="black"),
                bgcolor="rgba(0,0,0,0)", itemwidth=30, tracegroupgap=0),
)

tickfont = dict(family=FONT, size=10, color="black", weight="bold")
shapes = []
for r in range(3):
    for c in range(4):
        k = k_of(r, c)
        x0, x1 = XPIX[c]
        yp0, yp1 = YPIX[r][c]
        ylo, yhi = YRANGE[r][c]
        dec = YDEC[r][c]
        yt = YTICKS[r][c]
        layout[ax("xaxis", k)] = dict(
            domain=[x0 / W, x1 / W], range=[-2, 2], anchor=ax("y", k),
            showline=True, linecolor="black", linewidth=1.5, mirror="ticks",
            ticks="inside", ticklen=4, tickwidth=1.2, tickcolor="black",
            tickmode="array", tickvals=X_TICKS,
            ticktext=[f"{v:.1f}" for v in X_TICKS],
            showticklabels=(r == 2), showgrid=False, zeroline=False,
            tickfont=tickfont, ticklabelstandoff=1,
            minor=dict(ticks="inside", ticklen=2.5, dtick=0.25, tick0=-2, tickcolor="black", tickwidth=1),
        )
        layout[ax("yaxis", k)] = dict(
            domain=[1 - yp1 / H, 1 - yp0 / H], range=[ylo, yhi], anchor=ax("x", k),
            showline=True, linecolor="black", linewidth=1.5, mirror="ticks",
            ticks="inside", ticklen=4, tickwidth=1.2, tickcolor="black",
            tickmode="array", tickvals=yt,
            ticktext=[(f"{v:.{dec}f}").replace("-0.00", "0.00") for v in yt],
            showgrid=False, zeroline=False, tickfont=tickfont,
            minor=dict(ticks="inside", ticklen=2.5, dtick=YMINOR[r][c], tick0=0, tickcolor="black", tickwidth=1),
        )
        shapes.append(dict(type="line", xref=ax("x", k), yref=ax("y", k) + " domain", x0=0, x1=0, y0=0, y1=1,
                           line=dict(color="#222222", width=2, dash="dot"), layer="above"))
        if r == 0 and c == 2:
            shapes.append(dict(type="line", xref=ax("x", k) + " domain", yref=ax("y", k), x0=0, x1=1, y0=0, y1=0,
                               line=dict(color="#222222", width=2, dash="dot"), layer="below"))

layout["shapes"] = shapes

ann = []
col_cx = [268, 505, 722, 1012]
for c in range(4):
    ann.append(dict(text=COL_TITLES[c], x=col_cx[c] / W, y=1 - 52 / H, xref="paper", yref="paper",
                    showarrow=False, font=dict(family=FONT, size=23, color="black"),
                    xanchor="center", yanchor="middle"))
row_cy = [150, 293, 455]
for r in range(3):
    ann.append(dict(text=ROW_LABELS[r], x=92 / W, y=1 - row_cy[r] / H, xref="paper", yref="paper",
                    showarrow=False, font=dict(family=FONT, size=22, color="black"),
                    xanchor="center", yanchor="middle"))
ann.append(dict(text="PDOS (States/eV)", x=32 / W, y=1 - 303 / H, xref="paper", yref="paper",
                showarrow=False, textangle=-90, font=dict(family=FONT, size=30, color="black"),
                xanchor="center", yanchor="middle"))
ann.append(dict(text="E-E<sub>F</sub> (eV)", x=637 / W, y=1 - 606 / H, xref="paper", yref="paper",
                showarrow=False, font=dict(family=FONT, size=36, color="black"),
                xanchor="center", yanchor="middle"))
layout["annotations"] = ann

fig.update_layout(**layout)
fig.write_html("out.html")
